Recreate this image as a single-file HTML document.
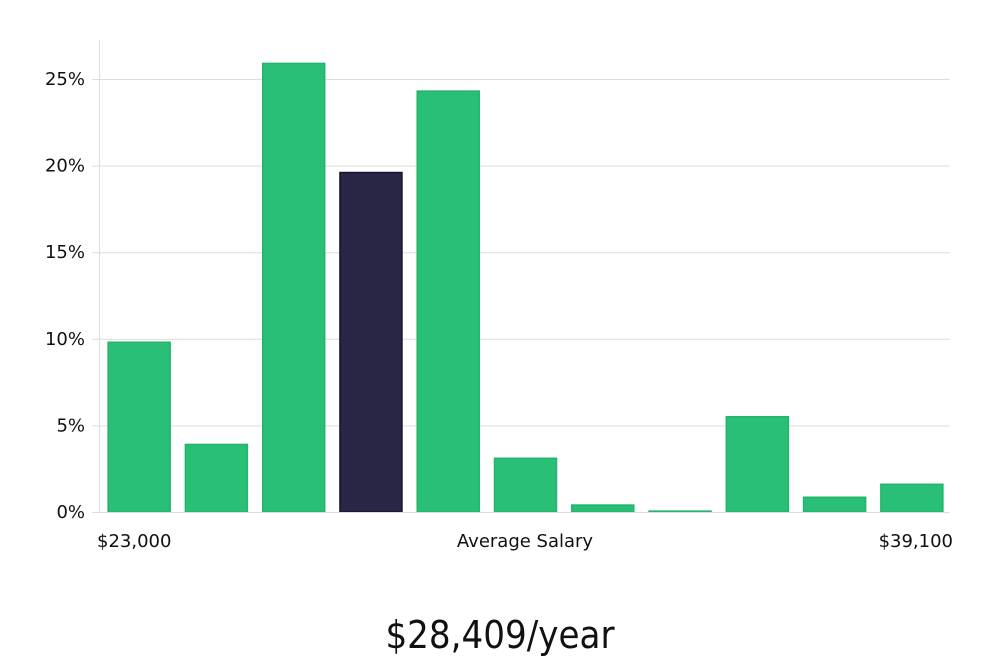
<!DOCTYPE html>
<html><head><meta charset="utf-8"><style>
body{margin:0;background:#fff;width:1000px;height:660px;overflow:hidden;font-family:"DejaVu Sans","Liberation Sans",sans-serif;}
</style></head><body>
<svg id="chart" width="1000" height="660">
<g id="grid"></g><g id="bars"></g><g id="labels"></g>
<line x1="99.5" y1="40" x2="99.5" y2="512" stroke="#ddd"/>
<line x1="99" y1="512.5" x2="950" y2="512.5" stroke="#ddd"/>
<text x="97" y="547" font-size="18" fill="#111">$23,000</text>
<text x="525" y="547" font-size="18" fill="#111" text-anchor="middle">Average Salary</text>
<text x="953" y="547" font-size="18" fill="#111" text-anchor="end">$39,100</text>
<text x="500" y="648" font-size="38" fill="#111" text-anchor="middle" font-family="'DejaVu Sans Condensed','Liberation Sans Narrow',sans-serif" font-weight="300">$28,409/year</text>
</svg>
<script>
const values=[9.8,3.9,25.9,19.6,24.3,3.1,0.4,0.05,5.5,0.85,1.6];
const highlight=[false,false,false,true,false,false,false,false,false,false,false];
const ticks=[0,5,10,15,20,25];
const tickLabels=["0%","5%","10%","15%","20%","25%"];
const ns="http://www.w3.org/2000/svg";
const y=v=>512-v*17.32;
const x0=100,slot=(950-100)/values.length;
const g=document.getElementById('grid'),b=document.getElementById('bars'),l=document.getElementById('labels');
ticks.forEach((t,i)=>{
 const ln=document.createElementNS(ns,'line');
 
 
 ln.setAttribute('x1',92);ln.setAttribute('x2',950);ln.setAttribute('y1',y(t)+0.5);ln.setAttribute('y2',y(t)+0.5);ln.setAttribute('stroke','#ddd');
 g.appendChild(ln);
 const tx=document.createElementNS(ns,'text');
 
 
 tx.setAttribute('x',85);tx.setAttribute('y',y(t)+6);tx.setAttribute('text-anchor','end');tx.setAttribute('font-size','18');tx.setAttribute('fill','#111');
 tx.textContent=tickLabels[i];l.appendChild(tx);
});
values.forEach((v,i)=>{
 const r=document.createElementNS(ns,'rect');
 
 
 const w=62;
 r.setAttribute('x',x0+i*slot+(slot-w)/2+0.5);r.setAttribute('width',w);
 r.setAttribute('y',y(v));r.setAttribute('height',Math.max(512-y(v),1));
 r.setAttribute('fill',highlight[i]?'#282645':'#2abf77');
 r.setAttribute('stroke',highlight[i]?'#15132e':'#22b36c');r.setAttribute('stroke-width','1.5');
 b.appendChild(r);
});
</script>
</body></html>
